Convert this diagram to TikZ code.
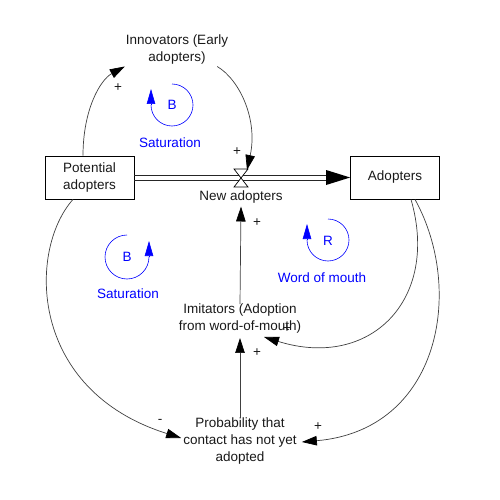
\documentclass[tikz,border=0pt]{standalone}
\usepackage{fontspec}
\setmainfont{Liberation Sans}
\usetikzlibrary{arrows.meta}
\begin{document}
\begin{tikzpicture}[x=1pt,y=-1pt,
  every node/.style={font=\fontsize{13.5}{17}\selectfont, inner sep=0pt, text=black!90},
  stock/.style={draw, line width=0.8pt, minimum width=89pt, minimum height=43pt, align=center},
  lbl/.style={align=center},
  sign/.style={font=\fontsize{13.5}{15}\selectfont},
  link/.style={draw=black!75, line width=0.7pt, -{Triangle[length=15pt,width=9.5pt,color=black]}},
  loop/.style={draw=blue, line width=0.6pt},
  looptip/.style={draw=blue, line width=0.6pt, -{Triangle[length=15pt,width=8.5pt,color=blue]}},
  looplbl/.style={text=blue},
  pipe/.style={draw=black!85, line width=0.8pt}]
\useasboundingbox (0,0) rectangle (500,500);
% stocks
\node[stock] (pa) at (89.5,177.5) {Potential\\adopters};
\node[stock] (ad) at (395,177.5) {Adopters};
% flow
\coordinate (valve) at (241,178);
\draw[pipe] ([yshift=2.5pt]pa.east) -- ([yshift=2.5pt,xshift=-20pt]ad.west);
\draw[pipe] ([yshift=-2.5pt]pa.east) -- ([yshift=-2.5pt,xshift=-20pt]ad.west);
\fill[black] (ad.west) -- ++(-24,-7.5) -- ++(0,15) -- cycle;
\draw[line width=0.7pt, fill=white] ([xshift=-7pt,yshift=9pt]valve) -- ([xshift=7pt,yshift=9pt]valve) -- ([xshift=-7pt,yshift=-9pt]valve) -- ([xshift=7pt,yshift=-9pt]valve) -- cycle;
\node[lbl] (na) at (241,197) {New adopters};
% auxiliaries
\node[lbl] (inn) at (177,49.5) {Innovators (Early\\adopters)};
\node[lbl] (imi) at (240,319) {Imitators (Adoption\\from word-of-mouth)};
\node[lbl] (prob) at (240,441) {Probability that\\contact has not yet\\adopted};
% links
\draw[link] ([xshift=-6.5pt]pa.north) .. controls (83,110) and (100,80) .. ([xshift=-1pt,yshift=-2pt]inn.south west);
\draw[link] ([xshift=-11pt,yshift=-2pt]inn.south east) .. controls (240,80) and (258,120) .. ([xshift=6pt,yshift=8pt]valve);
\draw[link] (imi.north) -- ([yshift=-3pt]na.south);
\draw[link] (prob.north) -- ([yshift=-4pt]imi.south);
\draw[link] ([xshift=-16.5pt]pa.south) .. controls (28,250) and (28,390) .. ([xshift=-2pt,yshift=3pt]prob.west);
\draw[link] ([xshift=16pt]ad.south) .. controls (440,300) and (370,370) .. ([xshift=24pt,yshift=-3pt]imi.south);
\draw[link] ([xshift=20pt]ad.south) .. controls (465,290) and (440,430) .. ([xshift=5pt,yshift=-1pt]prob.east);
% polarity signs
\node[sign] (s1) at (118,88) {+};
\node[sign] (s2) at (237,152) {+};
\node[sign] (s3) at (257,223) {+};
\node[sign] (s4) at (257,353) {+};
\node[sign] (s5) at (287,329) {+};
\node[sign] (s6) at (160,421) {-};
\node[sign] (s7) at (318,427) {+};
% loops
\coordinate (l1) at (172,105);
\draw[loop] ([yshift=21pt]l1) arc[start angle=-90, end angle=180, radius=21];
\draw[looptip] ([xshift=-21pt]l1) -- ++(0,-16);
\node[looplbl] (l1t) at (l1) {B};
\node[looplbl] (l1s) at (170,143) {Saturation};
\coordinate (l2) at (127,257);
\draw[loop] ([yshift=22pt]l2) arc[start angle=270, end angle=0, radius=22];
\draw[looptip] ([xshift=22pt]l2) -- ++(0,-16);
\node[looplbl] (l2t) at (l2) {B};
\node[looplbl] (l2s) at (128,294) {Saturation};
\coordinate (l3) at (328,240);
\draw[loop] ([yshift=21pt]l3) arc[start angle=-90, end angle=180, radius=21];
\draw[looptip] ([xshift=-21pt]l3) -- ++(0,-16);
\node[looplbl] (l3t) at ([yshift=-1pt]l3) {R};
\node[looplbl] (l3s) at (322,278) {Word of mouth};
\end{tikzpicture}
\end{document}
